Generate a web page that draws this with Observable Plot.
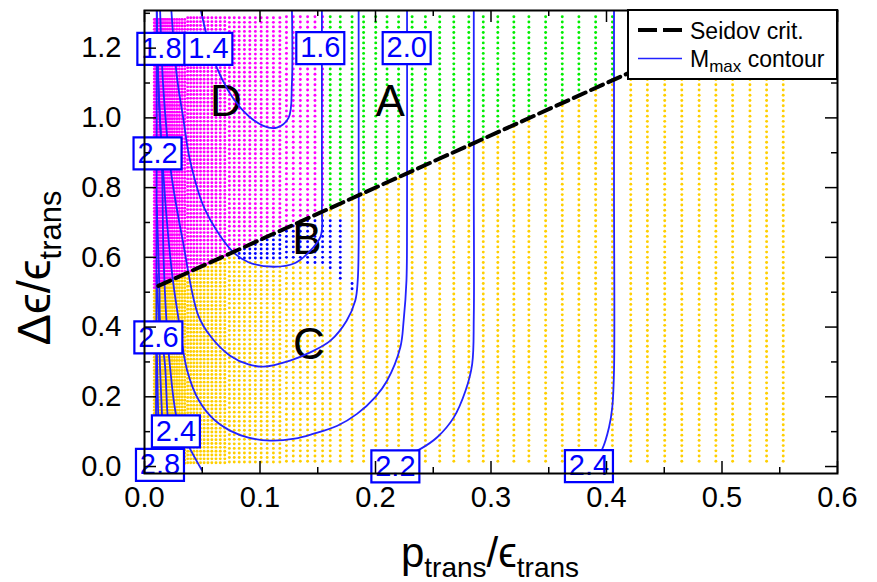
<!DOCTYPE html>
<html><head><meta charset="utf-8">
<script src="https://cdn.jsdelivr.net/npm/d3@7"></script>
<script src="https://cdn.jsdelivr.net/npm/@observablehq/plot@0.6"></script>
<style>
body{margin:0;background:#fff;}
#wrap{width:877px;height:582px;}
</style></head><body><div id="wrap"></div>
<script>
// ---------- data ----------
const xTicksMajor = [0, 0.1, 0.2, 0.3, 0.4, 0.5, 0.6];
const xTicksMinor = [0.05, 0.15, 0.25, 0.35, 0.45, 0.55];
const yTicksMajor = [0, 0.2, 0.4, 0.6, 0.8, 1.0, 1.2];
const yTicksMinor = [0.1, 0.3, 0.5, 0.7, 0.9, 1.1, 1.3];

// sampling columns of the parameter scan (p_trans/eps_trans)
const gridX = [0.0085,0.0094,0.0104,0.0115,0.0127,0.014,0.0154,0.0169,0.0185,0.0202,0.022,0.0239,0.0259,0.028,0.0302,0.0325,0.0349,0.0374,0.04,0.0427,0.0455,0.0485,0.0516,0.0549,0.0583,0.0619,0.0656,0.0695,0.0735,0.0777,0.082,0.0865,0.0912,0.096,0.101,0.1062,0.1116,0.1172,0.1229,0.1288,0.1349,0.1412,0.1476,0.1542,0.1608,0.1695,0.1797,0.1897,0.2002,0.21,0.22,0.2317,0.2432,0.2556,0.2678,0.2808,0.2933,0.3059,0.3198,0.3328,0.3473,0.3617,0.3761,0.3906,0.4051,0.421,0.4354,0.4504,0.4652,0.4802,0.4947,0.5092,0.5242,0.5386,0.553];
// row step of the scan in each column range: [upper x, step]
const rowStepTable = [[0.035, 0.0095], [0.07, 0.011], [0.12, 0.013], [1, 0.015]];
const gridYMax = 1.29;

// Seidov criterion: de/e = 1/2 + 3/2 p/e
const seidovIntercept = 0.5, seidovSlope = 1.5;
const seidovX = [0.012, 0.54];
const regionDSplitX = 0.157;           // D (left) vs A (right) above the line
const regionB = [[0.078,0.75],[0.078,0.598],[0.13,0.588],[0.156,0.578],[0.166,0.545],[0.174,0.527],[0.184,0.497],[0.184,0.515],[0.175,0.545],[0.175,0.71],[0.145,0.71],[0.145,0.75]];

// M_max contour lines
const c14 = [[0.048,1.32],[0.0626,1.144],[0.0828,1.03],[0.103,0.977],[0.1146,0.972],[0.1247,1.0],[0.1276,1.096],[0.1276,1.32]];
const c16 = [[0.023,1.32],[0.028,1.12],[0.0335,1.0],[0.0395,0.877],[0.052,0.74],[0.0756,0.619],[0.09,0.586],[0.112,0.573],[0.13,0.583],[0.1406,0.609],[0.1525,0.66],[0.1536,0.74],[0.1536,0.9],[0.1536,1.32]];
const c18 = [[0.0134,1.32],[0.016,1.1],[0.0195,0.95],[0.0236,0.829],[0.033,0.65],[0.0466,0.433],[0.058,0.37],[0.0741,0.318],[0.09,0.293],[0.103,0.2865],[0.126,0.304],[0.1435,0.3275],[0.161,0.361],[0.175,0.418],[0.1825,0.476],[0.1846,0.533],[0.1854,0.63],[0.1854,0.9],[0.1854,1.32]];
const c20 = [[0.0106,1.32],[0.0125,1.05],[0.0155,0.88],[0.0195,0.7],[0.024,0.55],[0.029,0.433],[0.037,0.275],[0.047,0.19],[0.06,0.135],[0.074,0.103],[0.09,0.083],[0.1088,0.0745],[0.13,0.08],[0.146,0.0936],[0.167,0.117],[0.184,0.151],[0.2,0.2],[0.21,0.246],[0.2215,0.342],[0.2244,0.42],[0.2268,0.533],[0.2273,0.7],[0.2273,1.32]];
const c22 = [[0.2851,1.32],[0.2851,0.8],[0.2851,0.43],[0.2837,0.294],[0.278,0.218],[0.2678,0.141],[0.2534,0.084],[0.239,0.0507],[0.225,0.03],[0.21,0.015]];
const c22Left = [[0.0106,1.2],[0.012,1.1],[0.015,0.877],[0.0165,0.6],[0.019,0.418],[0.022,0.289],[0.0288,0.127],[0.038,0.06],[0.0496,-0.01]];
const c24 = [[0.4065,1.32],[0.4065,0.8],[0.4065,0.275],[0.405,0.17],[0.4022,0.1126],[0.3964,0.0507],[0.39,0.02]];
const c24Left = [[0.0106,0.75],[0.013,0.5],[0.0134,0.418],[0.0178,0.289],[0.0206,0.127],[0.025,0.06],[0.03,-0.01]];
const c26Left = [[0.0106,0.55],[0.0125,0.4],[0.0134,0.289],[0.0154,0.127],[0.017,-0.01]];
const c28Left = [[0.0106,0.35],[0.0115,0.2],[0.012,0.127],[0.013,-0.01]];
const cEdge = [[0.0106,1.32],[0.0104,0.6],[0.0098,-0.01]];

// contour labels
const labelText = ["1.8","1.4","1.6","2.0","2.2","2.6","2.4","2.8","2.2","2.4"];
const labelX = [0.0146,0.0553,0.1522,0.227,0.0113,0.012,0.0272,0.0134,0.2172,0.3848];
const labelY = [1.198,1.198,1.2,1.2,0.898,0.3705,0.1008,0.005,0.0006,0.0014];

// region names
const regionName = ["A","B","C","D"];
const regionX = [0.2128,0.1406,0.1424,0.0705];
const regionY = [1.046,0.650,0.3496,1.046];

// ---------- build tables ----------
const lineY = x => seidovIntercept + seidovSlope * x;
const dots = {A: [], B: [], C: [], D: []};
for (const x of gridX) {
  const step = rowStepTable.find(r => x < r[0])[1];
  for (let k = 1; k * step <= gridYMax; k++) {
    const y = k * step;
    let cat;
    if (y > lineY(x)) cat = x < regionDSplitX ? "D" : "A";
    else if (d3.polygonContains(regionB, [x, y])) cat = "B";
    else cat = "C";
    dots[cat].push({x, y});
  }
}
const seidovPts = seidovX.map(x => ({x, y: lineY(x)}));
const contourSets = {c14, c16, c18, c20, c22, c22Left, c24, c24Left, c26Left, c28Left, cEdge};
const contourPts = Object.entries(contourSets).flatMap(([k, arr]) => arr.map(([x, y]) => ({k, x, y})));
const labels = labelText.map((t, i) => ({t, x: labelX[i], y: labelY[i]}));
const regions = regionName.map((t, i) => ({t, x: regionX[i], y: regionY[i]}));

// ---------- plot ----------
const W = 877, H = 582, mt = 10, mb = 109, ml = 144, mr = 40;
const fw = W - ml - mr, fh = H - mt - mb;
const font = "Liberation Sans, Arial, Helvetica, sans-serif";
const boxSymbol = {draw(ctx) { ctx.rect(-24, -16, 48, 32); }};
const blue = "#2222ff";
const dotR = 1.45;

const plot = Plot.plot({
  width: W, height: H,
  marginTop: mt, marginBottom: mb, marginLeft: ml, marginRight: mr,
  x: {domain: [0, 0.6]},
  y: {domain: [-0.02, 1.308]},
  style: {fontFamily: font, fontSize: "29px", background: "#fff", color: "#000"},
  marks: [
    Plot.dot(dots.C, {x: "x", y: "y", r: dotR, fill: "#ffcf00"}),
    Plot.dot(dots.D, {x: "x", y: "y", r: dotR, fill: "#ff00ff"}),
    Plot.dot(dots.A, {x: "x", y: "y", r: dotR, fill: "#00ee00"}),
    Plot.dot(dots.B, {x: "x", y: "y", r: dotR, fill: "#0000ff"}),
    Plot.text(regions, {x: "x", y: "y", text: "t", fontSize: 44, fill: "#000", textAnchor: "middle", lineAnchor: "middle"}),
    Plot.line(contourPts, {x: "x", y: "y", z: "k", stroke: blue, strokeWidth: 1.8, curve: "catmull-rom", clip: true}),
    Plot.line(seidovPts, {x: "x", y: "y", stroke: "#000", strokeWidth: 4, strokeDasharray: "13,6", clip: true}),
    Plot.dot(labels, {x: "x", y: "y", symbol: boxSymbol, fill: "#fff", stroke: "#0000ff", strokeWidth: 2.2}),
    Plot.text(labels, {x: "x", y: "y", text: "t", fill: "#0000ff", fontSize: 29, textAnchor: "middle", lineAnchor: "middle"}),
    Plot.tickX(xTicksMajor, {x: d => d, insetTop: fh - 12, stroke: "#000", strokeWidth: 1.5}),
    Plot.tickX(xTicksMajor, {x: d => d, insetBottom: fh - 12, stroke: "#000", strokeWidth: 1.5}),
    Plot.tickX(xTicksMinor, {x: d => d, insetTop: fh - 6, stroke: "#000", strokeWidth: 1.5}),
    Plot.tickX(xTicksMinor, {x: d => d, insetBottom: fh - 6, stroke: "#000", strokeWidth: 1.5}),
    Plot.tickY(yTicksMajor, {y: d => d, insetRight: fw - 12, stroke: "#000", strokeWidth: 1.5}),
    Plot.tickY(yTicksMajor, {y: d => d, insetLeft: fw - 12, stroke: "#000", strokeWidth: 1.5}),
    Plot.tickY(yTicksMinor, {y: d => d, insetRight: fw - 6, stroke: "#000", strokeWidth: 1.5}),
    Plot.tickY(yTicksMinor, {y: d => d, insetLeft: fw - 6, stroke: "#000", strokeWidth: 1.5}),
    Plot.frame({stroke: "#000", strokeWidth: 2}),
    Plot.axisX(xTicksMajor, {tickSize: 0, tickPadding: 13, tickFormat: d3.format(".1f"), fontSize: 29, label: null}),
    Plot.axisY(yTicksMajor, {tickSize: 0, tickPadding: 23, tickFormat: d3.format(".1f"), fontSize: 29, label: null})
  ]
});

// axis titles and legend (real text)
const svg = d3.select(plot);
const xl = svg.append("text").attr("x", 490).attr("y", 567).attr("text-anchor", "middle")
  .attr("font-size", 42).attr("font-family", font).attr("fill", "#000");
xl.append("tspan").text("p");
xl.append("tspan").attr("font-size", 28).attr("dy", 10).text("trans");
xl.append("tspan").attr("dy", -10).text("/ϵ");
xl.append("tspan").attr("font-size", 28).attr("dy", 10).text("trans");

const yl = svg.append("text").attr("transform", "translate(50,268) rotate(-90)").attr("text-anchor", "middle")
  .attr("font-size", 47).attr("font-family", font).attr("fill", "#000");
yl.append("tspan").text("Δϵ/ϵ");
yl.append("tspan").attr("font-size", 31).attr("dy", 11).text("trans");

const lg = svg.append("g").attr("text-anchor", "start").attr("font-family", font).attr("fill", "#000");
lg.append("rect").attr("x", 628).attr("y", 10).attr("width", 209).attr("height", 69)
  .attr("fill", "#fff").attr("stroke", "#000").attr("stroke-width", 2);
lg.append("line").attr("x1", 638).attr("x2", 682).attr("y1", 30).attr("y2", 30)
  .attr("stroke", "#000").attr("stroke-width", 4).attr("stroke-dasharray", "19,6");
lg.append("text").attr("x", 690).attr("y", 38.5).attr("font-size", 23).text("Seidov crit.");
lg.append("line").attr("x1", 638).attr("x2", 682).attr("y1", 58.5).attr("y2", 58.5)
  .attr("stroke", blue).attr("stroke-width", 1.5);
const lt = lg.append("text").attr("x", 690).attr("y", 67).attr("font-size", 23);
lt.append("tspan").text("M");
lt.append("tspan").attr("font-size", 17).attr("dy", 5).text("max");
lt.append("tspan").attr("dy", -5).text(" contour");

document.getElementById("wrap").appendChild(plot);
</script></body></html>
